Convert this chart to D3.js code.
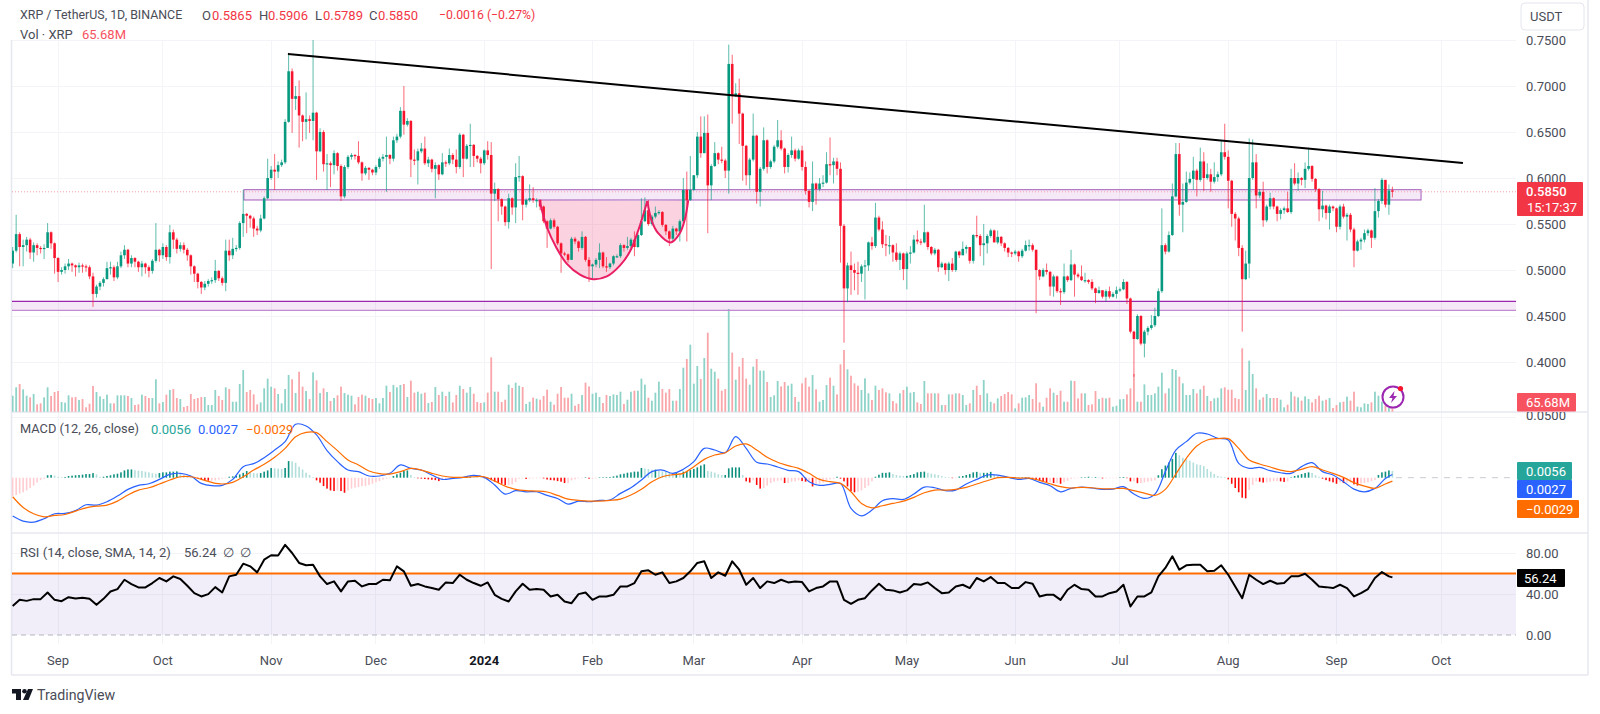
<!DOCTYPE html>
<html><head><meta charset="utf-8">
<script src="https://cdn.jsdelivr.net/npm/d3@7/dist/d3.min.js"></script>
<style>html,body{margin:0;background:#fff}svg{display:block}text{font-family:Roboto,"Liberation Sans",sans-serif}</style>
</head><body><div id="c"></div>
<script>
// ---------- DATA (prices in thousandths of USDT) ----------
const firstDate = "2023-08-19", firstOpen = 507;
const closes = [
521,539,525,527,533,519,527,524,523,524,
541,529,513,498,500,504,507,505,503,505,
504,503,493,474,482,486,490,502,503,492,
504,516,522,507,513,509,503,507,503,499,
510,522,516,525,514,541,533,523,527,522,
516,504,496,487,481,485,488,489,499,491,
486,521,516,523,524,551,561,559,556,545,
543,556,578,600,609,607,614,617,661,716,
686,689,668,661,664,662,671,629,650,615,
616,614,627,613,580,612,623,625,624,617,
605,611,609,606,612,621,623,625,621,641,
645,673,658,662,620,619,629,632,616,620,
610,614,604,617,616,625,620,612,647,621,
635,636,624,621,616,630,625,583,588,577,
569,552,578,568,601,602,571,576,578,576,
576,569,553,545,554,547,529,518,517,511,
534,531,524,536,511,504,506,511,519,504,
503,507,515,515,527,524,526,533,525,538,
553,565,550,558,562,563,549,542,534,545,
542,553,587,576,587,603,645,627,649,592,
613,627,620,619,608,724,689,692,670,635,
603,620,646,585,610,641,612,618,634,641,
632,612,625,630,621,630,612,586,574,594,
588,594,595,615,614,618,610,548,480,505,
500,497,496,504,505,530,526,557,544,528,
527,527,519,511,518,501,518,519,533,531,
530,541,525,518,522,503,507,500,507,500,
520,516,523,525,510,538,537,527,529,537,
543,530,536,529,524,519,518,520,515,521,
527,527,522,500,493,500,498,482,493,477,
476,493,489,506,495,493,489,489,487,480,
475,478,471,477,471,474,478,479,487,469,
433,425,450,420,433,437,440,450,477,527,
520,538,580,626,571,574,595,599,608,598,
618,600,604,596,601,604,628,623,597,561,
556,524,490,507,600,617,581,585,554,569,
578,569,561,565,567,563,600,594,600,598,
610,613,599,588,566,570,562,569,567,547,
569,558,560,544,521,531,533,540,543,535,
564,575,598,571,586.5,585];
const highs = [
525,560,541,533,536,535,530,529,526,528,
551,542,530,514,503,507,512,508,506,508,
507,506,505,497,484,488,492,509,509,505,
509,520,527,523,516,514,510,510,508,505,
512,551,523,529,527,549,544,535,530,530,
524,517,505,497,488,488,490,492,511,500,
493,533,533,535,527,553,587,562,560,558,
548,560,580,621,613,626,618,620,664,736,
719,700,706,669,693,668,750,672,654,652,
626,618,630,628,615,614,625,627,626,640,
618,613,612,610,614,623,626,645,626,645,
648,677,700,665,663,631,632,638,645,623,
621,617,615,627,619,632,627,631,649,648,
637,659,637,625,623,631,640,639,595,589,
578,570,583,579,616,624,603,578,593,590,
578,577,570,554,556,556,548,530,520,518,
536,536,532,542,537,514,507,513,529,520,
514,508,516,517,529,528,536,535,542,540,
578,579,576,560,569,565,564,550,543,548,
546,555,600,607,624,603,650,667,667,669,
615,639,628,634,621,745,734,703,708,671,
636,622,670,647,612,655,642,620,636,663,
652,633,627,645,632,632,635,618,587,618,
595,600,603,628,644,622,622,617,550,508,
520,507,509,506,511,531,536,573,559,553,
538,537,528,529,520,519,520,526,538,543,
534,571,542,526,524,523,509,508,509,513,
521,521,531,527,524,539,559,539,550,539,
545,544,543,537,530,525,520,522,521,523,
532,533,529,522,501,502,507,499,495,494,
480,507,494,522,507,497,505,497,490,490,
481,482,478,479,482,476,482,481,490,488,
470,434,452,451,435,439,451,459,480,567,
529,542,594,638,638,594,607,606,623,610,
633,628,616,610,617,607,640,659,630,598,
563,558,527,521,643,642,626,588,596,571,
584,579,570,567,569,585,610,616,606,601,
617,633,614,600,589,586,571,571,570,568,
571,572,562,562,546,533,535,544,545,544,
589,577,600,597,593,590.6];
const lows = [
502,519,504,504,520,512,509,516,518,512,
524,523,496,487,495,496,500,498,493,497,
497,498,490,460,470,478,482,490,495,488,
490,502,512,503,503,503,498,493,496,492,
496,508,509,512,510,507,523,518,520,518,
510,495,487,480,474,478,482,485,486,488,
483,477,510,512,520,522,536,540,546,536,
538,541,555,577,598,587,600,612,615,660,
649,674,633,640,642,649,641,598,628,607,
587,590,604,608,575,578,610,620,620,615,
597,603,598,603,603,610,618,585,615,618,
638,643,647,656,601,614,593,627,614,612,
606,578,598,603,612,614,615,605,610,601,
620,612,612,617,605,614,620,501,575,553,
560,548,545,560,551,596,554,568,574,573,
568,565,551,524,544,545,527,497,515,508,
513,528,520,522,509,487,491,503,502,502,
498,501,505,513,513,520,522,524,515,524,
537,552,548,548,556,560,547,538,526,531,
538,531,551,531,575,586,600,622,627,540,
576,612,615,616,600,583,659,688,637,597,
592,588,618,572,569,608,605,610,616,632,
630,605,606,622,618,620,608,582,568,564,
571,586,590,594,603,594,603,508,421,465,
473,478,473,487,468,499,522,524,542,524,
515,517,509,509,500,489,479,507,518,528,
527,529,522,516,516,498,502,495,488,498,
498,513,516,518,507,507,535,515,505,518,
535,530,528,526,520,514,514,516,509,513,
520,521,520,453,489,492,495,472,471,475,
462,474,487,488,471,491,488,486,485,478,
464,474,469,466,469,470,469,476,478,463,
431,384,424,418,405,429,435,438,449,475,
517,519,537,579,559,541,573,593,587,580,
596,586,598,585,594,596,602,620,567,547,
532,515,433,489,491,598,567,578,547,552,
566,566,553,555,561,562,561,592,586,592,
589,608,596,585,553,557,555,544,564,541,
544,556,532,541,503,520,522,530,537,524,
533,557,572,568,560,578.9];
// volume in millions of XRP
const volumes = [
312,475,540,436,312,280,345,143,163,280,
475,306,384,403,189,176,319,280,286,228,
247,85,156,501,384,299,247,332,163,163,
319,319,319,306,267,130,143,332,306,267,
267,631,163,189,332,423,442,267,247,91,
111,345,247,267,286,286,130,130,423,306,
228,475,442,195,195,540,813,384,423,338,
143,182,455,644,488,455,345,163,442,715,
631,364,780,488,403,247,767,611,364,455,
384,208,267,319,488,364,332,312,143,286,
332,312,267,247,267,163,267,507,384,520,
475,520,540,286,605,371,390,351,371,169,
189,481,325,390,306,390,182,325,507,442,
371,481,351,189,169,182,371,1060,390,390,
189,234,527,462,566,507,481,150,195,273,
254,234,306,429,195,137,351,481,273,273,
351,117,150,325,566,494,351,371,286,169,
325,306,338,325,390,150,234,390,410,410,
644,527,273,215,371,585,442,371,442,215,
215,442,858,1027,1307,546,891,637,1047,1541,
839,780,644,410,442,2002,1151,624,878,1047,
644,527,878,1027,800,800,579,286,319,598,
494,579,507,546,286,195,553,663,488,715,
436,195,228,520,663,507,338,923,1203,826,
702,553,507,423,650,358,228,507,423,455,
377,358,208,163,358,423,488,371,384,182,
150,598,358,358,358,358,130,130,338,338,
358,358,325,130,163,423,507,325,618,358,
195,163,260,306,345,384,338,65,163,273,
280,325,247,553,182,98,273,455,371,325,
410,195,195,605,598,260,358,358,130,143,
403,247,273,260,273,98,117,241,247,338,
455,735,195,195,533,325,325,358,488,761,
358,455,832,813,683,553,325,325,442,358,
436,507,306,208,260,273,455,475,429,429,
267,247,1235,423,995,735,455,234,280,345,
267,267,267,234,85,137,390,299,280,215,
299,247,182,247,312,215,234,267,72,130,
182,195,293,215,390,98,85,163,150,182,
390,312,195,117,72,65.68];
// MACD values in 1e-4 units; lines read every 3rd day plus the last day
const macdLine = [
-316,-358,-366,-338,-297,-294,-271,-223,-226,-198,
-151,-96,-63,-50,-14,27,36,14,-47,-66,
-63,-14,91,116,165,228,297,440,426,352,
223,132,63,50,14,14,36,105,77,63,
22,-14,-6,3,19,3,-60,-135,-107,-116,
-116,-146,-171,-217,-193,-198,-187,-184,-129,-83,
-19,50,63,36,69,132,242,228,206,338,
242,127,113,88,61,50,-33,-63,-55,-47,
-253,-314,-267,-190,-173,-179,-135,-77,-83,-107,
-102,-52,-14,22,22,3,-14,-6,-39,-66,
-116,-88,-77,-85,-96,-94,-74,-135,-171,-135,
50,228,297,366,360,325,311,118,77,85,
58,41,36,91,124,50,22,-33,-94,-116,
-88,-6,27];
const signalLine = [
-157,-245,-297,-322,-311,-303,-275,-248,-234,-226,
-193,-143,-102,-83,-52,-19,8,8,-14,-39,
-52,-39,8,63,110,168,242,338,374,371,
297,223,146,105,55,33,30,50,77,63,
36,14,3,3,8,8,-28,-69,-96,-107,
-110,-118,-146,-176,-187,-193,-193,-187,-176,-143,
-96,-33,8,25,36,91,151,187,206,261,
278,228,168,127,99,77,36,-14,-33,-47,
-116,-212,-248,-231,-212,-193,-162,-124,-102,-102,
-96,-80,-52,-25,0,3,-3,-3,-22,-50,
-74,-85,-80,-83,-91,-91,-88,-107,-127,-146,
-96,30,160,261,311,322,322,242,146,113,
88,63,50,69,91,63,36,3,-41,-69,
-88,-52,-28];
const histogram = [
-150,-143,-130,-120,-105,-85,-65,-40,-20,-10,
20,22,17,8,6,6,14,17,20,22,
25,30,30,38,28,8,8,14,20,28,
33,44,60,68,68,62,58,55,50,44,
36,33,38,44,44,50,50,52,30,20,
15,8,4,-5,-14,-22,-25,-24,-22,-15,
-8,-3,8,11,17,27,40,55,44,38,
36,38,50,60,80,78,75,72,80,137,
135,123,90,68,41,22,6,-22,-41,-69,
-90,-105,-110,-105,-110,-124,-105,-90,-82,-77,
-69,-69,-60,-50,-38,-28,-16,-8,-3,14,
28,41,55,60,22,6,-5,-8,-11,-14,
-17,-20,-28,-20,-12,-8,-4,-2,4,6,
6,8,6,3,2,-3,-6,-20,-33,-44,
-50,-60,-60,-55,-35,-8,-3,-10,-8,-5,
-5,-3,-6,-15,-20,-22,-28,-33,-44,-44,
-22,-14,-6,-3,2,-8,-8,-6,3,4,
5,6,11,17,28,33,41,44,50,50,
80,75,72,66,66,55,52,50,44,38,
38,36,50,55,63,72,85,100,110,55,
50,42,28,22,22,77,85,85,85,22,
-30,-40,-22,-60,-90,-85,-66,-44,-33,-25,
-22,-44,-44,-33,-30,-22,-28,-33,-33,-72,
-60,-50,-40,-28,-14,-8,8,-8,-30,-72,
-110,-120,-115,-105,-85,-66,-30,8,25,40,
40,44,30,22,17,14,15,22,30,44,
48,50,40,33,28,22,12,6,3,-3,
-3,10,14,22,30,44,48,40,40,40,
48,25,14,8,3,2,1,1,1,2,
2,2,-8,-17,-28,-33,-38,-38,-44,-44,
-50,-38,-25,-10,-5,-2,2,3,8,6,
6,3,-6,-6,-3,-3,-3,3,6,-3,
-30,-30,-45,-44,-38,-33,-28,-22,20,70,
100,125,155,205,185,165,150,140,125,110,
105,95,72,50,30,14,8,6,-14,-50,
-85,-120,-165,-170,-100,-60,-30,-33,-40,-38,
-33,-28,-28,-30,-35,-30,3,14,20,30,
38,44,40,20,8,-8,-20,-30,-38,-50,
-38,-44,-40,-40,-55,-65,-48,-44,-38,-30,
-20,22,44,50,60,56];
// RSI read every 2nd day plus the last day
const rsi = [
28.4,34.3,33.3,35,35,41.5,34.3,33,36.9,35.6,
36.3,35.3,29.4,35.3,42.5,44.8,53.9,49.7,46.4,46.4,
50.7,55.6,52.3,57.2,54.6,48,40.8,37.6,39.9,46.7,
41.5,57.2,58.8,69.6,67,61.1,73.5,77.8,77.5,87.9,
80,70.3,68,68.6,57.2,49.7,52.3,42.5,52.3,52.9,
47.4,49.7,49.7,53.9,53.3,67,62.1,48,49.7,47.4,
45.8,44.1,51.3,50.7,58.8,53.9,50.7,48,51.3,39.2,
35.3,32.7,42.5,50,44.1,44.8,44.1,37.6,39.2,32.7,
31,39.9,41.5,34.3,37.6,37.6,39.2,47.4,47.4,50.7,
62.1,63.1,58.8,61.1,50.7,52.3,55.6,62.1,70.3,71.9,
55.6,61.1,57.8,71.9,63.7,49,55.6,45.8,52.3,50.7,
53.9,51.3,52.3,51.6,42.5,45.8,47.4,52.3,52.3,34.3,
30.4,34.3,35.9,43.5,50,44.1,43.5,41.5,43.5,49.7,
49,51.3,45.8,40.8,41.5,47.4,49,45.8,55.6,52.3,
56.5,50.7,50.7,45.8,45.8,51.6,50,37.6,39.2,39.2,
34.3,44.1,49,44.8,44.1,37.6,37.6,40.8,42.5,49,
27.8,37.6,37.6,41.5,57.2,65.4,76.8,63.7,68,68.6,
68.6,62.1,62.7,68,58.8,47.4,35.9,58.8,53.9,49.7,
52.9,50,50.7,57.2,57.2,59.8,53.9,47.4,46.7,45.8,
49,45.8,37.6,40.8,44.8,55.6,61.4,57.2,56.24];
const priceTicks = [0.75,0.70,0.65,0.60,0.55,0.50,0.45,0.40];
const rsiTicks = [80,40,0];
const monthLabels = ["Sep","Oct","Nov","Dec","2024","Feb","Mar","Apr","May","Jun","Jul","Aug","Sep","Oct"];
const monthDates = ["2023-09-01","2023-10-01","2023-11-01","2023-12-01","2024-01-01","2024-02-01","2024-03-01","2024-04-01","2024-05-01","2024-06-01","2024-07-01","2024-08-01","2024-09-01","2024-10-01"];
// drawing annotations: [day index, price]
const trendLine = [[78.8,.7348],[415.2,.6163]];
const supplyBox = {from:66.2, to:403.2, top:.5873, bottom:.5761};
const demandBand = {top:.4660, bottom:.4562};
const cup = [[150.8,.576],[152.9,.547],[155.7,.524],[158.6,.507],[162.4,.495],[166.2,.490],[170.1,.493],[173.9,.505],[176.7,.520],[179.1,.543],[181.7,.575]];
const handle = [[181.7,.575],[182.9,.554],[184.8,.540],[188.4,.530],[191,.540],[192.5,.556],[193.4,.576]];

[[closes,396],[highs,396],[lows,396],[volumes,396],[histogram,396],[macdLine,133],[signalLine,133],[rsi,199]].forEach((a,k)=>{if(a[0].length!==a[1])throw new Error("len "+k+" "+a[0].length)});

// ---------- SCALES ----------
const W=1600,H=714,left=12,right=1516;
const UP="#089981",DOWN="#f7152e",GRID="#f3f4f7",AX="#4a4d57";
const day=864e5,t0=Date.parse(firstDate);
const x=d3.scaleUtc().domain([new Date(t0),new Date(t0+400*day)]).range([12.67,12.67+3.493*400]);
const dx=i=>x(new Date(t0+i*day));
const y=d3.scaleLinear().domain([.40,.75]).range([362,40]);
const yv=d3.scaleLinear().domain([0,2002]).range([411.7,309]);
const ym=d3.scaleLinear().domain([-500,500]).range([538.4,417]);
const yr=d3.scaleLinear().domain([0,80]).range([635,553]);

const svg=d3.select("#c").append("svg").attr("width",W).attr("height",H);
const defs=svg.append("defs");
defs.append("clipPath").attr("id","pm").append("rect").attr("x",left).attr("y",34).attr("width",right-left).attr("height",378);
defs.append("clipPath").attr("id","axM").append("rect").attr("x",right).attr("y",35.5).attr("width",74).attr("height",376);
defs.append("clipPath").attr("id","axN").append("rect").attr("x",right).attr("y",412).attr("width",74).attr("height",120);

// grid
const grid=svg.append("g").attr("stroke",GRID).attr("stroke-width",1).attr("shape-rendering","crispEdges");
monthDates.forEach(d=>{const px=x(new Date(d+"T00:00:00Z"));grid.append("line").attr("x1",px).attr("x2",px).attr("y1",40).attr("y2",644)});
priceTicks.forEach(p=>grid.append("line").attr("x1",left).attr("x2",right).attr("y1",y(p)).attr("y2",y(p)));
grid.append("line").attr("x1",left).attr("x2",right).attr("y1",ym(500)).attr("y2",ym(500));
[80,40].forEach(v=>grid.append("line").attr("x1",left).attr("x2",right).attr("y1",yr(v)).attr("y2",yr(v)));

// frame
const fr=svg.append("g").attr("stroke","#e6e8f0").attr("stroke-width",1.5);
fr.append("line").attr("x1",11.5).attr("x2",11.5).attr("y1",40).attr("y2",675);
fr.append("line").attr("x1",1588).attr("x2",1588).attr("y1",0).attr("y2",675);
fr.append("line").attr("x1",11.5).attr("x2",1588).attr("y1",675).attr("y2",675);
fr.append("line").attr("x1",11.5).attr("x2",1588).attr("y1",412).attr("y2",412);
fr.append("line").attr("x1",11.5).attr("x2",1588).attr("y1",533).attr("y2",533);

const idx=d3.range(closes.length);
const opens=idx.map(i=>i?closes[i-1]:firstOpen);
const isUp=i=>closes[i]>=opens[i];
const main=svg.append("g").attr("clip-path","url(#pm)");

// volume
main.append("g").selectAll("rect").data(idx).join("rect")
 .attr("x",i=>dx(i)-.9).attr("width",1.8).attr("y",i=>yv(volumes[i])).attr("height",i=>yv(0)-yv(volumes[i]))
 .attr("fill",i=>isUp(i)?"#8ed3c8":"#f9a6aa");

// bands
main.append("rect").attr("x",left).attr("width",right-left).attr("y",y(demandBand.top)).attr("height",y(demandBand.bottom)-y(demandBand.top)).attr("fill","#9c27b0").attr("fill-opacity",.1);
main.append("line").attr("x1",left).attr("x2",right).attr("y1",y(demandBand.top)).attr("y2",y(demandBand.top)).attr("stroke","#9c27b0").attr("stroke-width",1.2);
main.append("line").attr("x1",left).attr("x2",right).attr("y1",y(demandBand.bottom)).attr("y2",y(demandBand.bottom)).attr("stroke","#c28bd0").attr("stroke-width",1.2);
// cup & handle
const area=d3.line().x(d=>dx(d[0])).y(d=>y(d[1])).curve(d3.curveCatmullRom);
[cup,handle].forEach(c=>{
 main.append("path").attr("d",area(c)+"Z").attr("fill","#e91e63").attr("fill-opacity",.2);
});
// supply box
main.append("rect").attr("x",dx(supplyBox.from)).attr("width",dx(supplyBox.to)-dx(supplyBox.from)).attr("y",y(supplyBox.top)).attr("height",y(supplyBox.bottom)-y(supplyBox.top)).attr("fill","#9c27b0").attr("fill-opacity",.1).attr("stroke","#a45cba").attr("stroke-width",1);
// last price dotted
main.append("line").attr("x1",left).attr("x2",right).attr("y1",y(.585)).attr("y2",y(.585)).attr("stroke","#f7a0a8").attr("stroke-width",1).attr("stroke-dasharray","1 2");

// candles
const cg=main.append("g");
cg.selectAll("line").data(idx).join("line")
 .attr("x1",dx).attr("x2",dx).attr("y1",i=>y(highs[i]/1000)).attr("y2",i=>y(lows[i]/1000))
 .attr("stroke",i=>isUp(i)?UP:DOWN).attr("stroke-width",1).attr("stroke-opacity",.65);
cg.selectAll("rect").data(idx).join("rect")
 .attr("x",i=>dx(i)-1.3).attr("width",2.6)
 .attr("y",i=>y(Math.max(opens[i],closes[i])/1000))
 .attr("height",i=>Math.max(1.2,Math.abs(y(opens[i]/1000)-y(closes[i]/1000))))
 .attr("fill",i=>isUp(i)?UP:DOWN);
// cup strokes over candles
[cup,handle].forEach(c=>main.append("path").attr("d",area(c)).attr("fill","none").attr("stroke","#e91e63").attr("stroke-width",2));
main.append("line").attr("x1",dx(trendLine[0][0])).attr("x2",dx(trendLine[1][0])).attr("y1",y(trendLine[0][1])).attr("y2",y(trendLine[1][1])).attr("stroke","#000").attr("stroke-width",2);

// macd
svg.append("line").attr("x1",dx(396)).attr("x2",right).attr("y1",ym(0)).attr("y2",ym(0)).attr("stroke","#c8cad2").attr("stroke-width",1).attr("stroke-dasharray","6 6");
svg.append("g").selectAll("rect").data(idx).join("rect")
 .attr("x",i=>dx(i)-.8).attr("width",1.6)
 .attr("y",i=>Math.min(ym(histogram[i]),ym(0))).attr("height",i=>Math.max(.5,Math.abs(ym(histogram[i])-ym(0))))
 .attr("fill",i=>{const v=histogram[i],p=i?histogram[i-1]:v;return v>=0?(v>=p?"#0d8f7e":"#b2dfdb"):(v<p?"#ff0a0a":"#ffcdd2")});
const macdIdx=d3.range(0,396,3).concat(395);
const ml=vals=>d3.line().x((d,k)=>dx(macdIdx[k])).y(d=>ym(d)).curve(d3.curveCatmullRom)(vals);
svg.append("path").attr("d",ml(macdLine)).attr("fill","none").attr("stroke","#2962ff").attr("stroke-width",1.2);
svg.append("path").attr("d",ml(signalLine)).attr("fill","none").attr("stroke","#ff6d00").attr("stroke-width",1.2);

// rsi
svg.append("rect").attr("x",left).attr("width",right-left).attr("y",yr(60)).attr("height",yr(0)-yr(60)).attr("fill","#7e57c2").attr("fill-opacity",.1);
svg.append("line").attr("x1",left).attr("x2",right).attr("y1",yr(0)).attr("y2",yr(0)).attr("stroke","#b4b6be").attr("stroke-width",1).attr("stroke-dasharray","5 4");
svg.append("line").attr("x1",left).attr("x2",right).attr("y1",yr(60)).attr("y2",yr(60)).attr("stroke","#ff6d00").attr("stroke-width",1.8);
const rsiIdx=d3.range(0,396,2).concat(395);
svg.append("path").attr("d",d3.line().x((d,k)=>dx(rsiIdx[k])).y(d=>yr(d))(rsi)).attr("fill","none").attr("stroke","#000").attr("stroke-width",2).attr("stroke-linejoin","round");

// text helper
const fs=13;
function T(g,tx,ty,s,col,o={}){return g.append("text").attr("x",tx).attr("y",ty).attr("dy",".35em").attr("fill",col).attr("font-size",o.size||fs).attr("font-weight",o.w||400).attr("text-anchor",o.a||"start").text(s)}
// axis labels
const axM=svg.append("g").attr("clip-path","url(#axM)");
priceTicks.forEach(p=>T(axM,1526,y(p),p.toFixed(4),AX));
const axN=svg.append("g").attr("clip-path","url(#axN)");
T(axN,1526,ym(500)-1.2,"0.0500",AX);
rsiTicks.forEach(v=>T(svg,1526,yr(v),v.toFixed(2),AX));
monthLabels.forEach((l,k)=>T(svg,x(new Date(monthDates[k]+"T00:00:00Z")),660,l,l==="2024"?"#131722":AX,{a:"middle",w:l==="2024"?700:400}));

// header
const DC="#f23645";
T(svg,20,15,"XRP / TetherUS, 1D, BINANCE",AX,{size:12.4});
[["O",202,"0.5865",212],["H",259,"0.5906",268],["L",315,"0.5789",323],["C",369,"0.5850",378]].forEach(r=>{T(svg,r[1],15,r[0],AX);T(svg,r[3],15,r[2],DC)});
T(svg,439,15,"−0.0016 (−0.27%)",DC,{size:12.3});
T(svg,20,34,"Vol · XRP",AX);T(svg,82,34,"65.68M","#f7525f");
T(svg,20,429,"MACD (12, 26, close)",AX,{size:12.8});T(svg,151,429,"0.0056","#26a69a");T(svg,198,429,"0.0027","#2962ff");T(svg,246,429,"−0.0029","#ff6d00");
T(svg,20,552,"RSI (14, close, SMA, 14, 2)",AX,{size:13.1});T(svg,184,552,"56.24",AX);T(svg,223,552,"∅",AX);T(svg,240,552,"∅",AX);

// USDT box
svg.append("rect").attr("x",1521).attr("y",3).attr("width",63).attr("height",27).attr("rx",4).attr("fill","#fff").attr("stroke","#e4e6ee");
T(svg,1530,16,"USDT",AX);

// price tags
function tag(yt,h,w,col){svg.append("rect").attr("x",1517).attr("y",yt).attr("width",w).attr("height",h).attr("rx",1).attr("fill",col)}
tag(182,34,66,"#f23645");
T(svg,1526,191.5,"0.5850","#fff",{w:500});T(svg,1527,207,"15:17:37","#fff",{w:400});
tag(393,18.5,59,"#f7525f");T(svg,1526,402,"65.68M","#fff");
tag(462,18,55,"#26a69a");T(svg,1526,471,"0.0056","#fff");
tag(480,18,55,"#2962ff");T(svg,1526,489,"0.0027","#fff");
tag(500,18,62,"#ff6d00");T(svg,1526,509,"−0.0029","#fff");
tag(569,18,48,"#000");T(svg,1524,578,"56.24","#fff");

// lightning badge
const b=svg.append("g").attr("transform","translate(1393,397)");
b.append("circle").attr("r",10.5).attr("fill","#fff").attr("stroke","#9c27b0").attr("stroke-width",2);
b.append("path").attr("d","M1.5,-6 L-4,1 L-.5,1 L-2,6 L4,-1 L.5,-1 Z").attr("fill","#9c27b0");
b.append("circle").attr("cx",7.5).attr("cy",-8.5).attr("r",2.6).attr("fill","#f7152e");

// TradingView logo
const lg=svg.append("g").attr("transform","translate(12,689)").attr("fill","#131722");
lg.append("path").attr("d","M0,0H9V11H4V4.5H0Z");
lg.append("circle").attr("cx",12.5).attr("cy",2.3).attr("r",2.3);
lg.append("path").attr("d","M16,0H21L16.5,11H11Z");
T(svg,37,695,"TradingView","#4a4d57",{size:14.2});
</script></body></html>
